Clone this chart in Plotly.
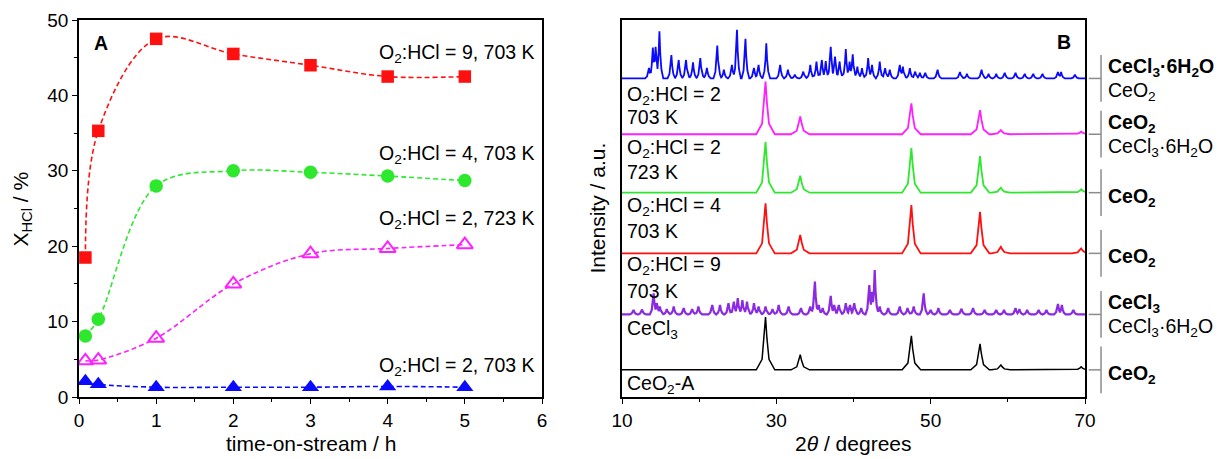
import plotly.graph_objects as go

# ---------------- Panel A data ----------------
time_h = [0.083, 0.25, 1, 2, 3, 4, 5]
xhcl_o2_9_703 = [18.5, 35.3, 47.5, 45.5, 44.0, 42.5, 42.5]
xhcl_o2_4_703 = [8.1, 10.3, 28.0, 30.0, 29.8, 29.3, 28.7]
xhcl_o2_2_723 = [4.8, 4.9, 7.8, 15.0, 19.0, 19.7, 20.2]
xhcl_o2_2_703 = [2.1, 1.7, 1.3, 1.3, 1.3, 1.4, 1.3]
labels_a = ["O<sub>2</sub>:HCl = 9, 703 K", "O<sub>2</sub>:HCl = 4, 703 K",
            "O<sub>2</sub>:HCl = 2, 723 K", "O<sub>2</sub>:HCl = 2, 703 K"]
x_ticks_a = [0, 1, 2, 3, 4, 5, 6]
y_ticks_a = [0, 10, 20, 30, 40, 50]

# ---------------- Panel B data (peak positions 2theta / heights a.u.) ----------------
ceo2_2theta = [28.6, 33.1, 47.5, 56.4, 59.1, 69.5]
h_ceo2_a = [14.0, 4.0, 9.0, 6.9, 1.3, 0.8]
h_o2_2_703 = [14.0, 4.7, 8.2, 6.4, 1.1, 0.7]
h_o2_2_723 = [13.5, 4.5, 11.8, 9.7, 1.3, 0.9]
h_o2_4_703 = [13.3, 4.9, 12.8, 11.0, 1.75, 1.3]

cecl3_6h2o_2theta = [13.5, 14.0, 14.35, 14.85, 16.4, 17.35, 18.3, 19.2, 20.15, 21.0, 22.35, 23.2,
                     24.25, 24.9, 26.0, 27.1, 27.7, 28.7, 30.5, 31.5, 32.4, 33.5, 34.4, 35.2, 35.9,
                     36.4, 37.05, 37.6, 38.2, 39.0, 39.5, 39.9, 40.5, 41.1, 41.9, 42.4, 43.4, 44.1,
                     44.7, 46.0, 46.4, 47.3, 48.0, 48.6, 49.3, 50.9, 53.8, 54.7, 56.6, 57.5, 58.5,
                     59.6, 61.0, 62.2, 63.3, 64.5, 66.5, 66.9, 68.7]
h_cecl3_6h2o = [2.8, 8.2, 8.4, 12.5, 6.2, 4.9, 4.9, 4.3, 5.4, 2.8, 8.7, 2.3,
                3.6, 12.9, 10.5, 2.8, 3.6, 9.3, 3.6, 2.3, 1.0, 1.8, 3.6, 4.5, 4.9,
                4.6, 8.4, 5.8, 4.5, 7.8, 4.5, 6.4, 3.1, 2.7, 5.4, 3.6, 4.5, 2.7,
                2.3, 3.6, 3.1, 2.7, 1.8, 1.5, 1.5, 2.3, 1.7, 1.2, 2.3, 1.2, 1.2,
                1.5, 1.5, 1.2, 1.2, 1.2, 1.7, 1.7, 1.0]

o2_9_703_2theta = [11.5, 12.6, 14.1, 14.5, 14.9, 15.8, 16.7, 18.0, 19.1, 19.9, 21.7, 22.7, 23.8,
                   24.5, 25.0, 25.6, 26.2, 27.1, 27.7, 28.6, 29.5, 30.3, 31.6, 33.2, 34.4, 35.0,
                   35.5, 36.0, 37.05, 37.5, 38.1, 39.0, 39.55, 40.1, 41.0, 42.05, 42.4, 42.75,
                   43.4, 44.5, 46.0, 47.0, 47.8, 49.1, 50.0, 51.0, 52.5, 54.0, 55.5, 57.0, 58.5,
                   59.5, 61.0, 61.5, 62.5, 64.0, 65.0, 66.5, 67.0, 68.5]
h_o2_9_703 = [1.2, 1.3, 5.6, 3.0, 2.1, 1.4, 2.1, 1.7, 1.4, 2.1, 2.5, 2.5, 3.0,
              3.4, 4.3, 3.8, 3.4, 3.0, 2.1, 2.1, 1.4, 2.5, 2.1, 1.7, 2.1, 8.7,
              2.5, 1.7, 4.9, 2.5, 2.5, 3.0, 2.5, 3.0, 1.7, 7.8, 6.0, 11.8,
              2.1, 1.7, 2.1, 1.7, 2.1, 5.6, 1.2, 1.7, 1.2, 1.5, 1.7, 1.2, 1.2,
              1.2, 1.7, 1.4, 1.2, 1.2, 1.2, 2.8, 2.5, 1.2]

pattern_names = ["CeCl3·6H2O", "O2:HCl = 2, 703 K", "O2:HCl = 2, 723 K",
                 "O2:HCl = 4, 703 K", "O2:HCl = 9, 703 K", "CeO2-A"]
pattern_offsets = [84.5, 69.7, 54.2, 38.1, 21.9, 7.2]
phase_main = ["CeCl<sub>3</sub>·6H<sub>2</sub>O", "CeO<sub>2</sub>", "CeO<sub>2</sub>",
              "CeO<sub>2</sub>", "CeCl<sub>3</sub>", "CeO<sub>2</sub>"]
phase_minor = ["CeO<sub>2</sub>", "CeCl<sub>3</sub>·6H<sub>2</sub>O", "", "",
               "CeCl<sub>3</sub>·6H<sub>2</sub>O", ""]
sample_labels_b = [["O<sub>2</sub>:HCl = 2", "703 K"], ["O<sub>2</sub>:HCl = 2", "723 K"],
                   ["O<sub>2</sub>:HCl = 4", "703 K"], ["O<sub>2</sub>:HCl = 9", "703 K"],
                   ["CeCl<sub>3</sub>"], ["CeO<sub>2</sub>-A"]]
x_ticks_b = [10, 30, 50, 70]

# ---------------- styling ----------------
FONT = "Liberation Sans, Arial, sans-serif"
FS = 19.5
FT = 19
FTITLE = 21
RED, GREEN, MAG, BLUE = "#ff1010", "#2ee82e", "#ff20ff", "#0a0aff"
PURPLE = "#8a2be2"

XA = [79 / 1226, 542 / 1226]
XB = [622 / 1226, 1085 / 1226]
YD = [1 - 397 / 459, 1 - 20 / 459]

# peak profile styles: (distance from centre in degrees, fraction of height)
PROFILE_SHARP = [(0.0, 1.0), (0.1, 0.55), (0.25, 0.2), (0.5, 0.0)]
PROFILE_CEO2 = [(0.0, 1.0), (0.18, 0.6), (0.45, 0.2), (1.2, 0.0)]


def build_pattern(peaks, heights, profile):
    verts = set([10.0, 70.0])
    for p in peaks:
        for d, _ in profile:
            for s in (-1, 1):
                x = p + s * d
                if 10.0 <= x <= 70.0:
                    verts.add(round(x, 4))
    verts = sorted(verts)

    def prof(x, p, h):
        d = abs(x - p)
        for (d0, f0), (d1, f1) in zip(profile[:-1], profile[1:]):
            if d0 <= d <= d1:
                return h * (f0 + (f1 - f0) * (d - d0) / (d1 - d0))
        return 0.0

    ys = [max([0.0] + [prof(x, p, h) for p, h in zip(peaks, heights)]) for x in verts]
    return verts, ys


fig = go.Figure()

# Panel A traces
series_a = [
    (xhcl_o2_9_703, RED, "square", 12.5, False),
    (xhcl_o2_4_703, GREEN, "circle", 13.5, False),
    (xhcl_o2_2_723, MAG, "triangle-up-open", 14, True),
    (xhcl_o2_2_703, BLUE, "triangle-up", 15, False),
]
for vals, col, sym, size, open_ in series_a:
    fig.add_trace(go.Scatter(
        x=time_h, y=vals, mode="lines", xaxis="x", yaxis="y",
        line=dict(color=col, width=1.6, dash="5px,3px", shape="spline", smoothing=1.0),
        showlegend=False, hoverinfo="skip"))
for vals, col, sym, size, open_ in series_a:
    fig.add_trace(go.Scatter(
        x=time_h, y=vals, mode="markers", xaxis="x", yaxis="y",
        marker=dict(symbol=sym, size=size, color=col,
                    line=dict(color=col, width=2 if open_ else 0)),
        showlegend=False))

# Panel B traces
pattern_specs = [
    (cecl3_6h2o_2theta, h_cecl3_6h2o, BLUE, PROFILE_SHARP, 1.8),
    (ceo2_2theta, h_o2_2_703, MAG, PROFILE_CEO2, 1.8),
    (ceo2_2theta, h_o2_2_723, GREEN, PROFILE_CEO2, 1.8),
    (ceo2_2theta, h_o2_4_703, RED, PROFILE_CEO2, 1.8),
    (o2_9_703_2theta, h_o2_9_703, PURPLE, PROFILE_SHARP, 2.2),
    (ceo2_2theta, h_ceo2_a, "#000000", PROFILE_CEO2, 1.5),
]
for (peaks, hs, col, profile, lw), off, name in zip(pattern_specs, pattern_offsets, pattern_names):
    xs, ys = build_pattern(peaks, hs, profile)
    fig.add_trace(go.Scatter(
        x=xs, y=[off + y for y in ys], mode="lines", xaxis="x2", yaxis="y2",
        line=dict(color=col, width=lw), name=name, showlegend=False))

axis_common = dict(showline=True, linecolor="black", linewidth=1.5, mirror=True,
                   showgrid=False, zeroline=False, ticks="outside", ticklen=5,
                   tickwidth=1.2, tickcolor="black", automargin=False,
                   tickfont=dict(family=FONT, size=FT, color="black"))

fig.update_layout(
    width=1226, height=459,
    margin=dict(l=0, r=0, t=0, b=0),
    paper_bgcolor="white", plot_bgcolor="white",
    font=dict(family=FONT, size=FS, color="black"),
    xaxis=dict(domain=XA, range=[0, 6], tickvals=x_ticks_a, anchor="y",
               minor=dict(dtick=0.5, ticklen=3, ticks="outside", tickcolor="black"),
               **axis_common),
    yaxis=dict(domain=YD, range=[0, 50], tickvals=y_ticks_a, anchor="x",
               minor=dict(dtick=5, ticklen=3, ticks="outside", tickcolor="black"),
               **axis_common),
    xaxis2=dict(domain=XB, range=[10, 70], tickvals=x_ticks_b, anchor="y2",
                minor=dict(dtick=10, ticklen=3, ticks="outside", tickcolor="black"),
                **axis_common),
    yaxis2=dict(domain=YD, range=[0, 100], anchor="x2", showticklabels=False,
                showline=True, linecolor="black", linewidth=1.5, mirror=True,
                showgrid=False, zeroline=False, ticks="", automargin=False),
)

ann = []
# Panel A annotations
label_y_a = [45.6, 32.1, 23.5, 4.0]
for txt, yy in zip(labels_a, label_y_a):
    ann.append(dict(x=5.94, y=yy, xref="x", yref="y", text=txt, showarrow=False,
                    xanchor="right", yanchor="middle", font=dict(size=FS)))
ann.append(dict(x=0.28, y=46.9, xref="x", yref="y", text="<b>A</b>", showarrow=False,
                xanchor="center", yanchor="middle", font=dict(size=FS)))
ann.append(dict(x=22 / 1226, y=(YD[0] + YD[1]) / 2, xref="paper", yref="paper",
                text="X<sub>HCl</sub> / %", textangle=-90, showarrow=False,
                xanchor="center", yanchor="middle", font=dict(size=FTITLE)))
ann.append(dict(x=(XA[0] + XA[1]) / 2, y=1 - 443 / 459, xref="paper", yref="paper",
                text="time-on-stream / h", showarrow=False,
                xanchor="center", yanchor="middle", font=dict(size=FTITLE)))

# Panel B annotations
ann.append(dict(x=67.3, y=94.2, xref="x2", yref="y2", text="<b>B</b>", showarrow=False,
                xanchor="center", yanchor="middle", font=dict(size=FS)))
ann.append(dict(x=597 / 1226, y=(YD[0] + YD[1]) / 2, xref="paper", yref="paper",
                text="Intensity / a.u.", textangle=-90, showarrow=False,
                xanchor="center", yanchor="middle", font=dict(size=FTITLE)))
ann.append(dict(x=(XB[0] + XB[1]) / 2, y=1 - 443 / 459, xref="paper", yref="paper",
                text="2<i>θ</i> / degrees", showarrow=False,
                xanchor="center", yanchor="middle", font=dict(size=FTITLE)))

sample_label_y = [[80.0, 74.2], [65.8, 59.6], [50.4, 44.1], [34.9, 28.2], [17.8], [3.2]]
for lines, ys in zip(sample_labels_b, sample_label_y):
    for txt, yy in zip(lines, ys):
        ann.append(dict(x=10.55, y=yy, xref="x2", yref="y2", text=txt, showarrow=False,
                        xanchor="left", yanchor="middle", font=dict(size=FS), borderpad=0))

shapes = []
for off, main, minor in zip(pattern_offsets, phase_main, phase_minor):
    shapes.append(dict(type="line", xref="x2 domain", yref="y2", x0=1.008, x1=1.0346,
                       y0=off, y1=off, line=dict(color="#8c8c8c", width=1.5)))
    shapes.append(dict(type="line", xref="x2 domain", yref="y2", x0=1.0346, x1=1.0346,
                       y0=off - 6.2, y1=off + 6.2, line=dict(color="#8c8c8c", width=1.5)))
    if minor:
        ann.append(dict(x=1.045, y=off + 2.9, xref="x2 domain", yref="y2", text="<b>" + main + "</b>",
                        showarrow=False, xanchor="left", yanchor="middle", font=dict(size=FS)))
        ann.append(dict(x=1.045, y=off - 3.5, xref="x2 domain", yref="y2", text=minor,
                        showarrow=False, xanchor="left", yanchor="middle", font=dict(size=FS)))
    else:
        ann.append(dict(x=1.045, y=off - 1.2, xref="x2 domain", yref="y2", text="<b>" + main + "</b>",
                        showarrow=False, xanchor="left", yanchor="middle", font=dict(size=FS)))

fig.update_layout(annotations=ann, shapes=shapes)
fig.write_html("out.html", config={"displayModeBar": False},
               post_script="document.body.style.margin='0px';document.body.style.overflow='hidden';")
